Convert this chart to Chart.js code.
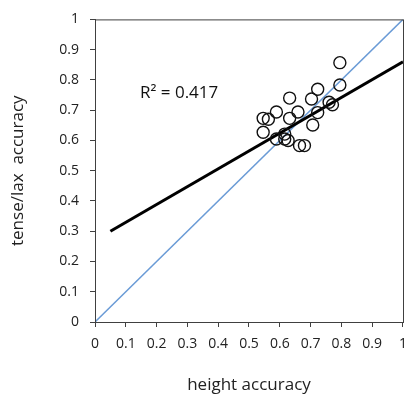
<!DOCTYPE html>
<html>
<head>
<meta charset="utf-8">
<script src="https://cdn.jsdelivr.net/npm/chart.js@4/dist/chart.umd.min.js"></script>
<style>
  html, body { margin: 0; padding: 0; background: #fff; }
  #wrap { width: 416px; height: 399px; }
</style>
</head>
<body>
<div id="wrap"><canvas id="chart"></canvas></div>
<script>
// scatter values
const heightAcc = [0.795, 0.795, 0.723, 0.703, 0.632, 0.771, 0.760, 0.723, 0.659, 0.589, 0.632,
                   0.546, 0.563, 0.707, 0.546, 0.589, 0.616, 0.627, 0.664, 0.680, 0.616];
const tenseLaxAcc = [0.857, 0.783, 0.769, 0.737, 0.740, 0.718, 0.726, 0.692, 0.694, 0.694, 0.673,
                     0.673, 0.670, 0.651, 0.627, 0.605, 0.605, 0.600, 0.583, 0.583, 0.621];

// trend line ends and y = x reference
const trendX = [0.05, 1];
const trendY = [0.30, 0.86];
const diagX = [0, 1];
const diagY = [0, 1];
const r2Label = "R² = 0.417";

const points = heightAcc.map((x, i) => ({ x: x, y: tenseLaxAcc[i] }));
const trend = trendX.map((x, i) => ({ x: x, y: trendY[i] }));
const diag = diagX.map((x, i) => ({ x: x, y: diagY[i] }));

const font = "'Open Sans', 'Liberation Sans', sans-serif";
const textColor = "#222";

// frame + R² text
const extras = {
  id: "extras",
  afterDatasetsDraw(chart) {
    const { ctx, chartArea: a, scales } = chart;
    ctx.save();
    ctx.strokeStyle = "#404040";
    ctx.lineWidth = 1;
    ctx.strokeRect(a.left + 0.5, a.top + 0.5, a.right - a.left, a.bottom - a.top);
    ctx.fillStyle = "#111";
    ctx.font = "17px " + font;
    ctx.textAlign = "left";
    ctx.textBaseline = "middle";
    ctx.fillText(r2Label, scales.x.getPixelForValue(0.146), scales.y.getPixelForValue(0.757));
    ctx.restore();
  }
};

new Chart(document.getElementById("chart"), {
  type: "scatter",
  data: {
    datasets: [
      {
        data: diag,
        showLine: true,
        borderColor: "#6a9bd6",
        borderWidth: 1.5,
        pointRadius: 0,
        order: 3
      },
      {
        data: trend,
        showLine: true,
        borderColor: "#000",
        borderWidth: 3,
        pointRadius: 0,
        order: 2
      },
      {
        data: points,
        showLine: false,
        pointRadius: 6,
        pointBorderWidth: 1.4,
        pointBorderColor: "#111",
        pointBackgroundColor: "rgba(0,0,0,0)",
        order: 1
      }
    ]
  },
  options: {
    responsive: true,
    maintainAspectRatio: false,
    animation: false,
    layout: { padding: { top: 13, right: 9, left: 0, bottom: 0 } },
    plugins: {
      legend: { display: false },
      tooltip: { enabled: false }
    },
    scales: {
      x: {
        type: "linear",
        min: 0,
        max: 1,
        afterFit: (s) => { s.height = 77; },
        grid: { drawOnChartArea: false, drawTicks: true, tickLength: 5, color: "#404040" },
        border: { color: "#404040" },
        ticks: {
          stepSize: 0.1,
          padding: 9,
          maxRotation: 0,
          autoSkip: false,
          color: textColor,
          font: { family: font, size: 14 },
          callback: (v) => Math.round(v * 10) / 10
        },
        title: {
          display: true,
          text: "height accuracy",
          color: textColor,
          font: { family: font, size: 17 },
          padding: { top: 0, bottom: 4 }
        }
      },
      y: {
        type: "linear",
        min: 0,
        max: 1,
        afterFit: (s) => { s.width = 95; },
        grid: { drawOnChartArea: false, drawTicks: true, tickLength: 5, color: "#404040" },
        border: { color: "#404040" },
        ticks: {
          stepSize: 0.1,
          padding: 11,
          color: textColor,
          font: { family: font, size: 14 },
          callback: (v) => Math.round(v * 10) / 10
        },
        title: {
          display: true,
          text: "tense/lax  accuracy",
          color: textColor,
          font: { family: font, size: 17 },
          padding: { top: 8, bottom: 0 }
        }
      }
    }
  },
  plugins: [extras]
});
</script>
</body>
</html>
